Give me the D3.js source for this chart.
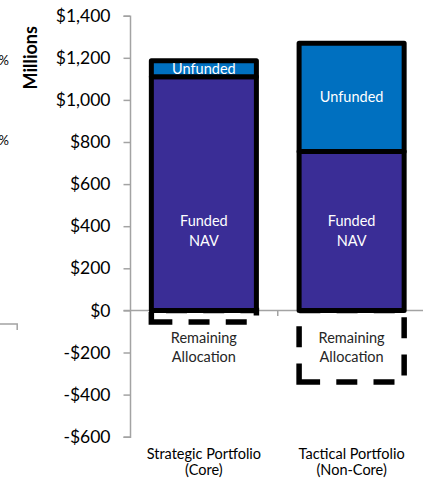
<!DOCTYPE html>
<html>
<head>
<meta charset="utf-8">
<script src="https://cdn.jsdelivr.net/npm/d3@7"></script>
<style>
  html, body { margin: 0; padding: 0; background: #fff; }
  svg { display: block; font-family: Lato, "Open Sans", sans-serif; }
</style>
</head>
<body>
<svg id="chart" width="423" height="480"></svg>
<script>
// Portfolio allocation in $ millions
const categories = [["Strategic Portfolio", "(Core)"], ["Tactical Portfolio", "(Non-Core)"]];
const fundedNAV = [1110, 755];
const unfunded = [76, 514];
const remaining = [-55, -340];
const yTicks = [-600, -400, -200, 0, 200, 400, 600, 800, 1000, 1200, 1400];

const colors = { funded: "#3a2d96", unfunded: "#0070c0", axis: "#a3a3a3" };

const svg = d3.select("#chart");

const y = d3.scaleLinear().domain([-600, 1400]).range([436.7, 15.7]);
const x = d3.scaleBand()
  .domain(categories.map((c, i) => i))
  .range([130, 425.5])
  .paddingInner(0.289)
  .paddingOuter(0.1445);

const fmt = v => (v < 0 ? "-$" : "$") + d3.format(",")(Math.abs(v));

// Cropped edge of the neighbouring panel
const side = svg.append("g");
side.append("text").attr("x", 9).attr("y", 60).attr("dy", "0.35em")
  .attr("text-anchor", "end").attr("font-size", 13).attr("fill", "#000").text("%");
side.append("text").attr("x", 9).attr("y", 140).attr("dy", "0.35em")
  .attr("text-anchor", "end").attr("font-size", 13).attr("fill", "#000").text("%");
side.append("path").attr("d", "M0,324H17.2V330")
  .attr("fill", "none").attr("stroke", colors.axis).attr("stroke-width", 1.5);

// Y axis
const yAxis = svg.append("g")
  .attr("transform", "translate(130,0)")
  .call(d3.axisLeft(y).tickValues(yTicks).tickSize(6.5).tickPadding(13).tickFormat(fmt));
yAxis.select(".domain").attr("stroke", colors.axis).attr("stroke-width", 1.5);
yAxis.selectAll(".tick line").attr("stroke", colors.axis).attr("stroke-width", 1.5);
yAxis.selectAll(".tick text")
  .attr("font-family", "Lato, sans-serif")
  .attr("font-size", 17.5).attr("fill", "#000");

// Axis title
svg.append("text")
  .attr("transform", `translate(37,${y(1200)}) rotate(-90)`)
  .attr("text-anchor", "middle")
  .attr("font-size", 18).attr("font-weight", "bold").attr("fill", "#000")
  .text("Millions");

// Zero baseline with category dividers
const x0 = svg.append("g");
x0.append("line")
  .attr("x1", 123.5).attr("x2", 423).attr("y1", y(0)).attr("y2", y(0))
  .attr("stroke", colors.axis).attr("stroke-width", 1.5);
x0.selectAll("line.div")
  .data(categories.map((c, i) => i))
  .join("line").attr("class", "div")
  .attr("x1", i => x(i) + x.bandwidth() + x.step() * x.paddingInner() / 2)
  .attr("x2", i => x(i) + x.bandwidth() + x.step() * x.paddingInner() / 2)
  .attr("y1", y(0)).attr("y2", y(0) + 5.5)
  .attr("stroke", colors.axis).attr("stroke-width", 1.5);

// Remaining allocation: dashed outline below zero
const bars = svg.append("g");
bars.selectAll("path.remaining")
  .data(remaining)
  .join("path").attr("class", "remaining")
  .attr("d", (v, i) => {
    const l = x(i), r = x(i) + x.bandwidth(), t = y(0), b = y(v);
    return `M${l},${b}H${r}V${t}H${l}Z`;
  })
  .attr("fill", "none").attr("stroke", "#000")
  .attr("stroke-width", 5.5).attr("stroke-dasharray", "21,16.2");

// Stacked segments: funded NAV then unfunded commitments
const segs = [];
fundedNAV.forEach((f, i) => {
  segs.push({ i, y0: 0, y1: f, fill: colors.funded });
  segs.push({ i, y0: f, y1: f + unfunded[i], fill: colors.unfunded });
});
bars.selectAll("rect.seg")
  .data(segs)
  .join("rect").attr("class", "seg")
  .attr("x", d => x(d.i))
  .attr("width", x.bandwidth())
  .attr("y", d => y(d.y1))
  .attr("height", d => y(d.y0) - y(d.y1))
  .attr("fill", d => d.fill)
  .attr("stroke", "#000").attr("stroke-width", 5)
  .attr("stroke-linejoin", "round");

// Segment labels
const lab = svg.append("g").attr("text-anchor", "middle").attr("font-size", 14.5);
const fundedY = y(d3.min(fundedNAV) / 2);
fundedNAV.forEach((f, i) => {
  const cx = x(i) + x.bandwidth() / 2;
  lab.append("text").attr("x", cx).attr("y", y(f + unfunded[i] / 2)).attr("dy", "0.35em")
    .attr("fill", "#fff").text("Unfunded");
  lab.append("text").attr("x", cx).attr("y", fundedY - 10).attr("dy", "0.35em")
    .attr("fill", "#fff").text("Funded");
  lab.append("text").attr("x", cx).attr("y", fundedY + 10).attr("dy", "0.35em")
    .attr("fill", "#fff").text("NAV");
});
const remY = y(d3.min(remaining) / 2);
remaining.forEach((v, i) => {
  const cx = x(i) + x.bandwidth() / 2;
  lab.append("text").attr("x", cx).attr("y", remY - 8.5).attr("dy", "0.35em")
    .attr("fill", "#262626").text("Remaining");
  lab.append("text").attr("x", cx).attr("y", remY + 11).attr("dy", "0.35em")
    .attr("fill", "#262626").text("Allocation");
});

// Category labels
categories.forEach((c, i) => {
  const cx = x(i) + x.bandwidth() / 2;
  c.forEach((line, k) => {
    lab.append("text").attr("x", cx).attr("y", 458.5 + k * 16)
      .attr("fill", "#000").text(line);
  });
});
</script>
</body>
</html>
